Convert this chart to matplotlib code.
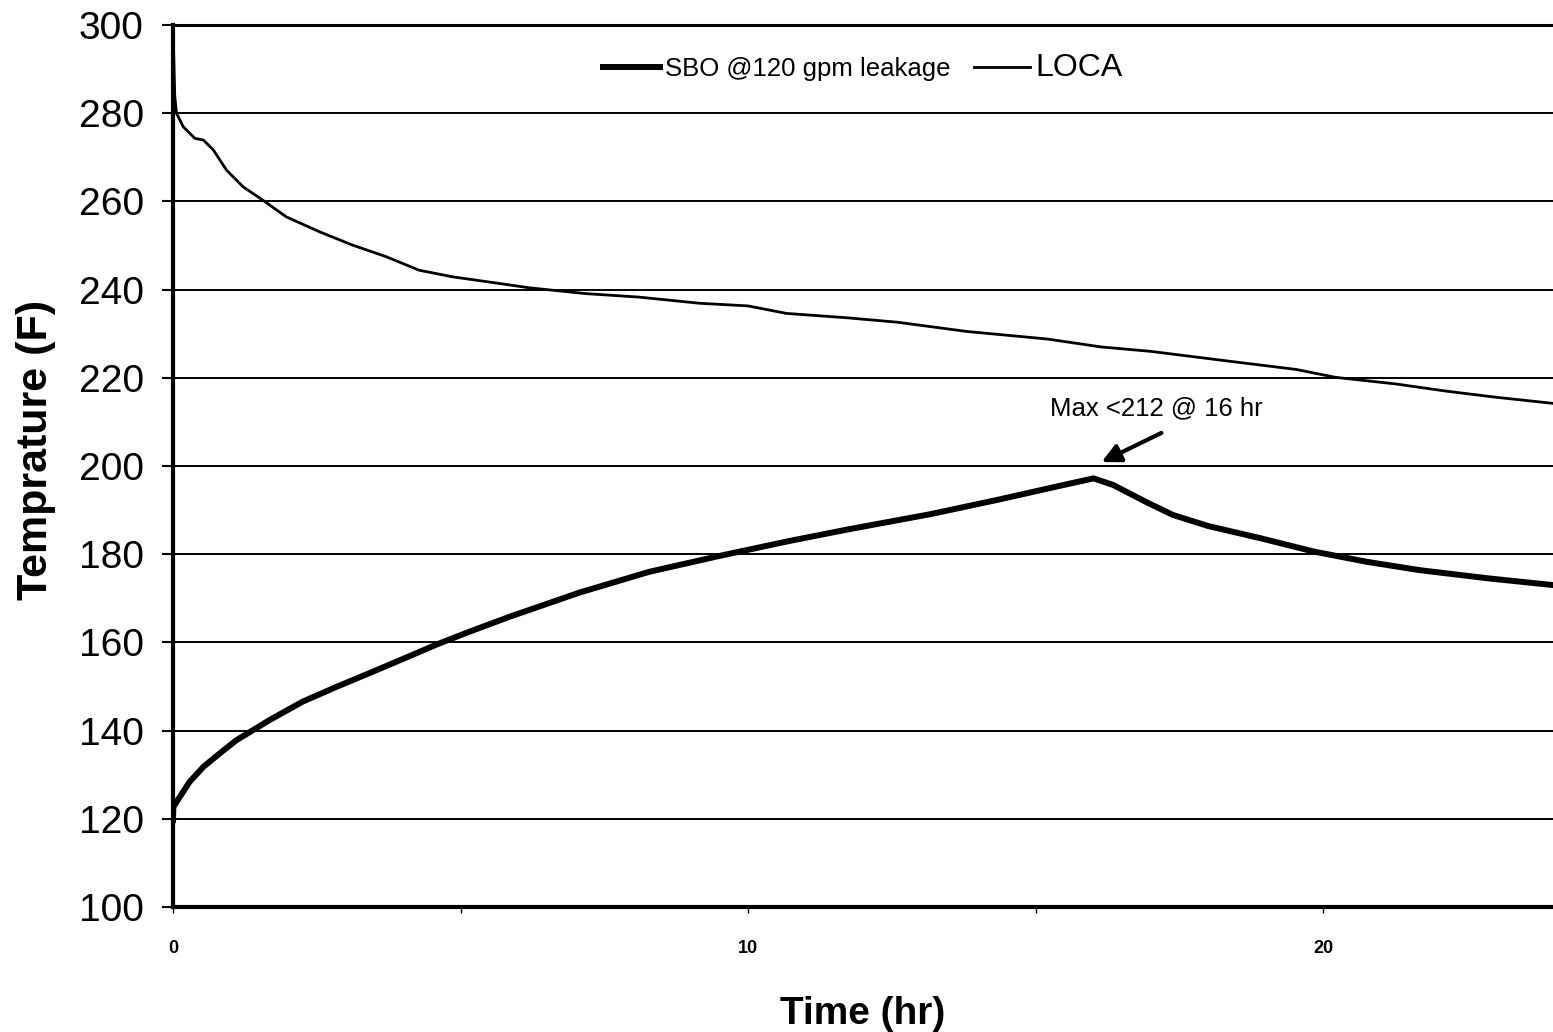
import matplotlib
matplotlib.use("Agg")
import matplotlib.pyplot as plt
from matplotlib.ticker import MultipleLocator

plt.rcParams['font.family'] = ['Liberation Sans', 'DejaVu Sans']

# ---- data ----
sbo_time = [0, 0.006, 0.12, 0.29, 0.53, 0.81, 1.1, 1.39, 1.68, 2.26, 2.84, 3.41, 3.99,
            4.6, 5.15, 5.85, 7.07, 8.28, 9.5, 10.72, 11.73, 12.02, 13.18, 14.33, 15.49,
            16.01, 16.35, 16.93, 17.39, 18.0, 18.92, 19.84, 20.75, 21.67, 22.89, 24.0]
sbo_temp = [119.7, 122.7, 125, 128.4, 131.8, 134.8, 137.8, 140.1, 142.4, 146.6, 149.9,
            153.0, 156.2, 159.6, 162.4, 165.8, 171.3, 176.0, 179.6, 183.0, 185.6, 186.3,
            189.1, 192.3, 195.7, 197.2, 195.7, 191.8, 188.9, 186.4, 183.6, 180.6, 178.3,
            176.4, 174.5, 173.0]

loca_time = [0, 0.03, 0.06, 0.18, 0.38, 0.53, 0.7, 0.93, 1.22, 1.56, 1.97, 2.55, 3.12,
             3.7, 4.28, 4.86, 5.67, 6.2, 7.17, 8.1, 9.16, 10.0, 10.67, 11.73, 12.6, 13.81,
             15.2, 16.14, 17.0, 18.47, 19.53, 20.22, 21.27, 22.13, 23.0, 24.0]
loca_temp = [300, 284, 280, 276.9, 274.3, 273.9, 271.7, 267.1, 263.3, 260.3, 256.5,
             253.1, 250.1, 247.5, 244.4, 242.9, 241.4, 240.4, 239.1, 238.3, 236.9, 236.3,
             234.6, 233.6, 232.6, 230.5, 228.8, 227.0, 226.0, 223.6, 221.9, 220.1, 218.6,
             217.0, 215.6, 214.2]

series_labels = ["SBO @120 gpm leakage", "LOCA"]
y_ticks = [100, 120, 140, 160, 180, 200, 220, 240, 260, 280, 300]
x_tick_labels = ["0", "10", "20"]
annot_text = "Max <212 @ 16 hr"
annot_head = (16.15, 200.9)
annot_tail = (17.19, 207.5)
annot_text_pos = (17.1, 213.0)

# ---- figure ----
fig = plt.figure(figsize=(15.53, 10.32), dpi=100)
ax = fig.add_axes([173/1553, 1-907/1032, 1-173/1553, (907-25)/1032])

ax.plot(sbo_time, sbo_temp, color='black', lw=4.3, label=series_labels[0],
        solid_joinstyle='round', zorder=3)
ax.plot(loca_time, loca_temp, color='black', lw=2.0, label=series_labels[1],
        solid_joinstyle='round', zorder=3)

ax.set_xlim(0, 24)
ax.set_ylim(100, 300)
ax.set_yticks(y_ticks)
ax.set_xticks([0, 10, 20])
ax.set_xticklabels(x_tick_labels)
ax.xaxis.set_minor_locator(MultipleLocator(5))

ax.yaxis.grid(True, color='black', lw=1.4)
ax.set_axisbelow(True)

for s in ['left', 'bottom']:
    ax.spines[s].set_linewidth(3)
ax.spines['top'].set_linewidth(2.2)
ax.spines['right'].set_visible(False)

ax.tick_params(axis='y', labelsize=28, length=8, width=1.5, pad=13, direction='out')
ax.tick_params(axis='x', which='major', labelsize=13, length=4, width=1, pad=20)
ax.tick_params(axis='x', which='minor', length=4, width=1)
for lab in ax.get_xticklabels():
    lab.set_fontweight('bold')

ax.set_ylabel("Temprature (F)", fontsize=31, fontweight='bold', labelpad=16, y=0.518)
ax.set_xlabel("Time (hr)", fontsize=28, fontweight='bold', labelpad=28)

leg = ax.legend(loc='center', bbox_to_anchor=(0.5, 0.951), frameon=False, ncol=2,
                fontsize=18.5, handlelength=2.2, handletextpad=0.2, columnspacing=0.9)
leg.get_texts()[1].set_fontsize(23)

ax.annotate('', xy=annot_head, xytext=annot_tail,
            arrowprops=dict(arrowstyle='-|>', lw=3, color='black', mutation_scale=28,
                            shrinkA=0, shrinkB=0))
ax.text(annot_text_pos[0], annot_text_pos[1], annot_text, ha='center', va='center',
        fontsize=18.5)

fig.savefig("out.png", dpi=100)
